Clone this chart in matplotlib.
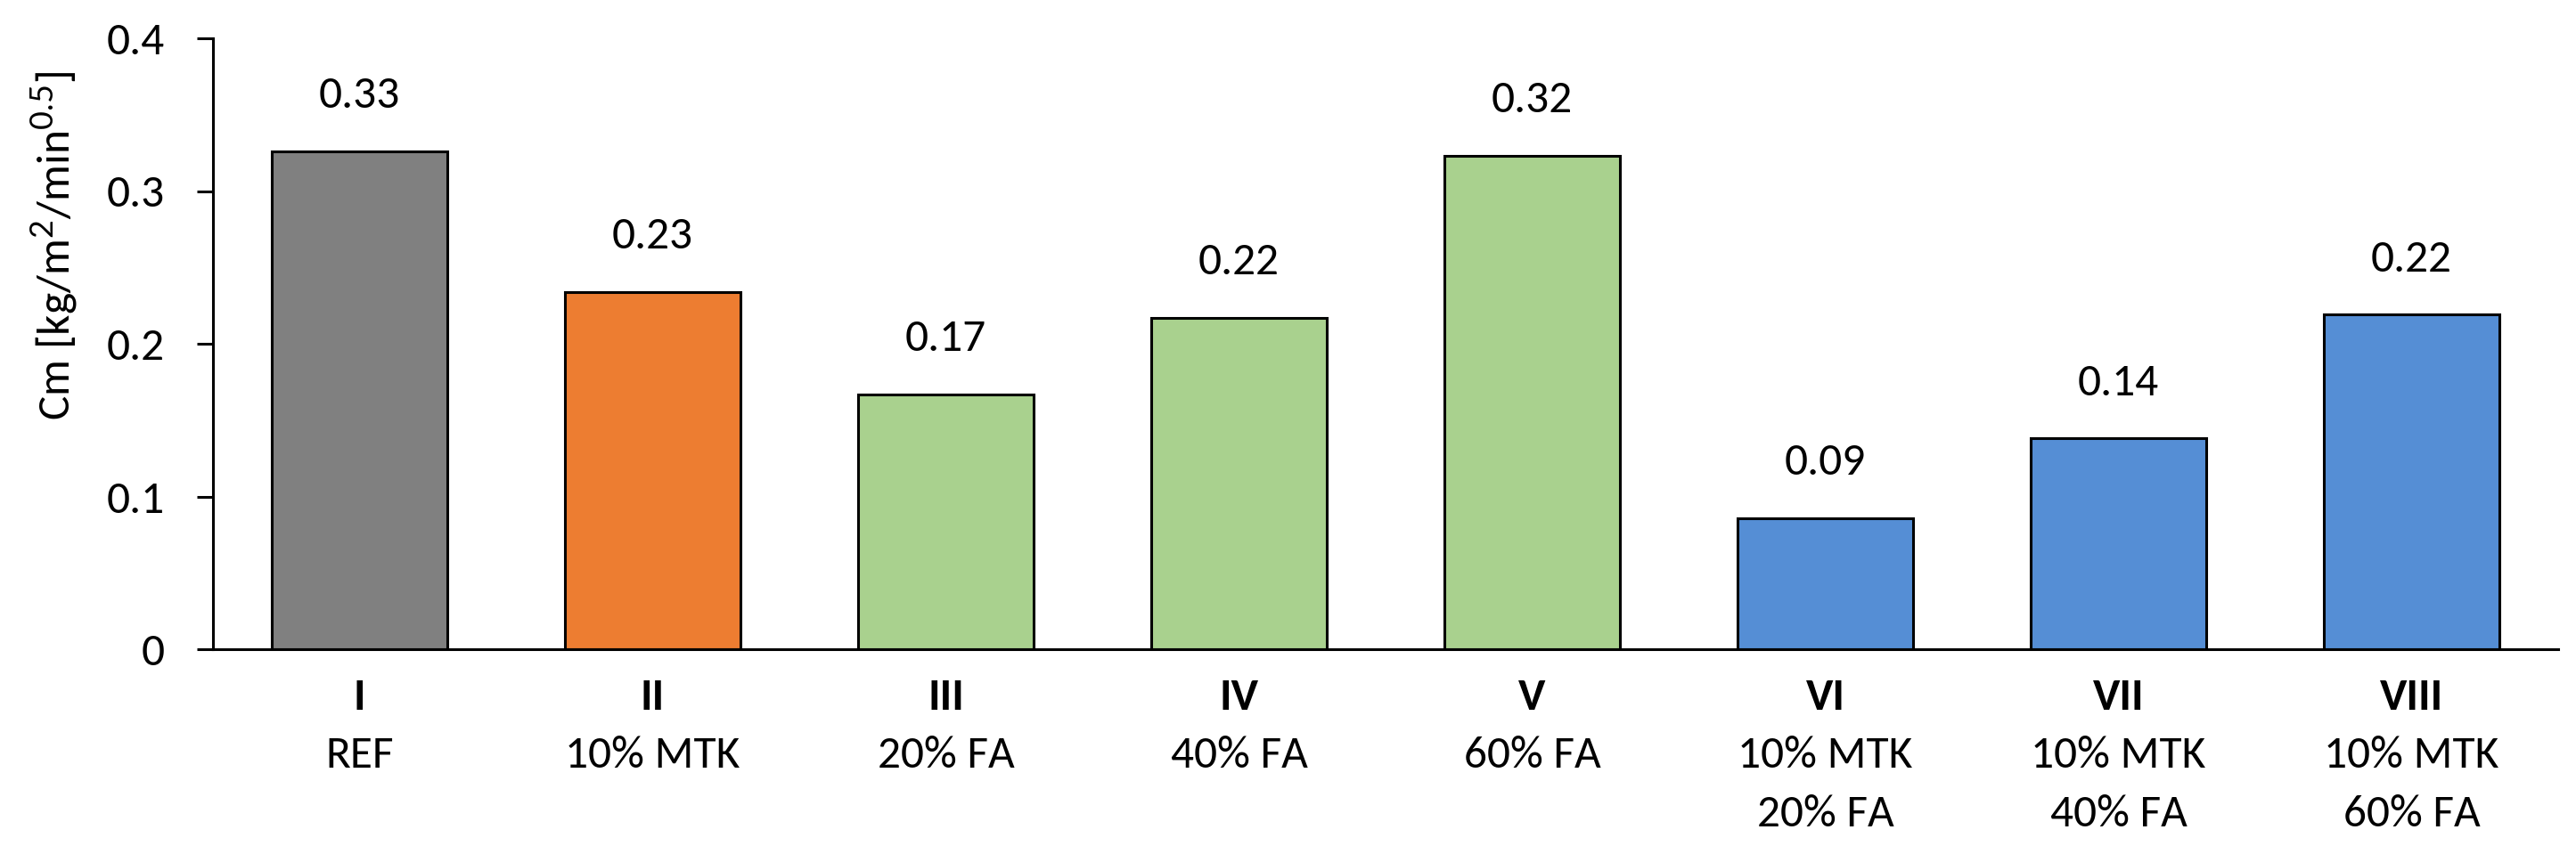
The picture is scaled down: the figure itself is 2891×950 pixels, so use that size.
import numpy as np
import matplotlib
matplotlib.use("Agg")
import matplotlib.pyplot as plt

# data
numerals = ["I", "II", "III", "IV", "V", "VI", "VII", "VIII"]
groups = ["REF", "10% MTK", "20% FA", "40% FA", "60% FA",
          "10% MTK\n20% FA", "10% MTK\n40% FA", "10% MTK\n60% FA"]
cm_values = [0.326, 0.234, 0.167, 0.217, 0.323, 0.086, 0.138, 0.219]
bar_colors = ["#808080", "#ED7D31", "#A9D18E", "#A9D18E", "#A9D18E",
              "#558ED5", "#558ED5", "#558ED5"]
y_ticks = [0, 0.1, 0.2, 0.3, 0.4]
y_tick_labels = ["0", "0.1", "0.2", "0.3", "0.4"]

plt.rcParams['font.family'] = ['Carlito', 'Lato', 'DejaVu Sans']
plt.rcParams['mathtext.fontset'] = 'custom'
plt.rcParams['mathtext.rm'] = 'Lato'
plt.rcParams['mathtext.it'] = 'Lato:italic'

FS = 37
W, H = 2891, 950
fig = plt.figure(figsize=(W / 100, H / 100), dpi=100)
ax = fig.add_axes([239 / W, 1 - 729 / H, 2632 / W, 686 / H])

x = np.arange(len(cm_values))
ax.bar(x, cm_values, width=0.6, color=bar_colors, edgecolor="black", linewidth=2.2)

ax.set_xlim(-0.5, len(cm_values) - 0.5)
ax.set_ylim(0, 0.4)
ax.set_yticks(y_ticks)
ax.set_yticklabels(y_tick_labels, fontsize=FS)
ax.tick_params(axis='y', direction='out', length=13, width=2.2, pad=26)
ax.set_xticks([])

for s in ["top", "right"]:
    ax.spines[s].set_visible(False)
for s in ["left", "bottom"]:
    ax.spines[s].set_linewidth(2.2)

# value labels above bars
for xi, v in zip(x, cm_values):
    ax.annotate(f"{v:.2f}", xy=(xi, v), xytext=(0, 35), textcoords="offset points",
                ha="center", va="baseline", fontsize=FS)

# category labels under the axis
for xi, num, grp in zip(x, numerals, groups):
    ax.annotate(num, xy=(xi, 0), xycoords=ax.get_xaxis_transform(),
                xytext=(0, -49), textcoords="offset points",
                ha="center", va="baseline", fontsize=FS, fontweight="bold")
    for k, line in enumerate(grp.split("\n")):
        ax.annotate(line, xy=(xi, 0), xycoords=ax.get_xaxis_transform(),
                    xytext=(0, -96 - 47 * k), textcoords="offset points",
                    ha="center", va="baseline", fontsize=FS)

fig.text(62 / W, 1 - 276 / H, r"Cm [kg/m$^{2}$/min$^{0.5}$]", rotation=90,
         ha="center", va="center", fontsize=FS)

fig.savefig("out.png", dpi=100)
